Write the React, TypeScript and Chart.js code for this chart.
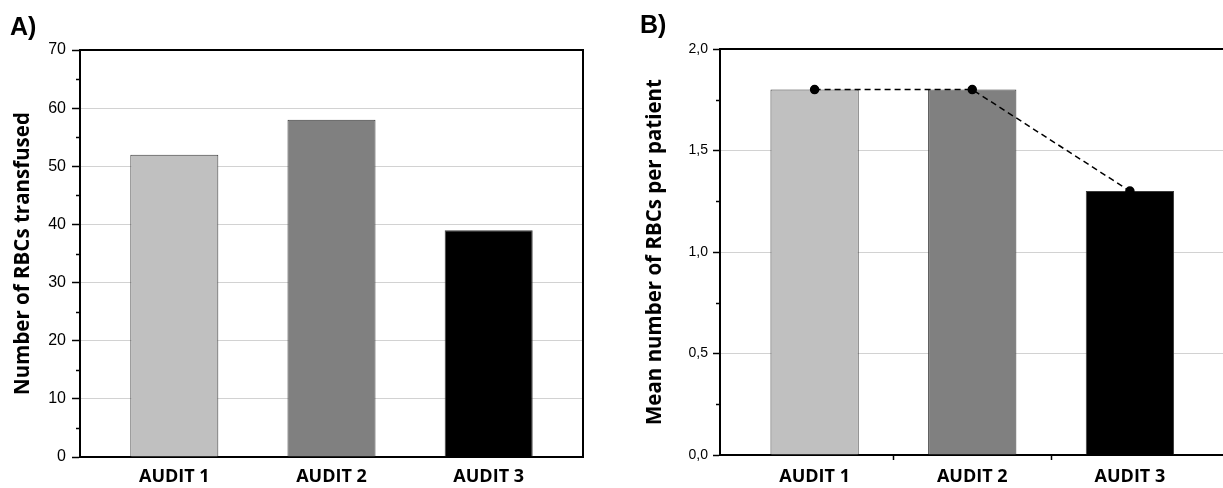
import React, { useEffect, useRef } from "react";
import { Chart, registerables } from "chart.js";

Chart.register(...registerables);

const categories = ["AUDIT 1", "AUDIT 2", "AUDIT 3"];
const categoryPositions = [1, 2, 3];
const rbcsTransfused = [52, 58, 39];
const meanRbcsPerPatient = [1.8, 1.8, 1.3];
const barColors = ["#c0c0c0", "#808080", "#000000"];
const minorTicksA = [5, 15, 25, 35, 45, 55, 65];
const minorTicksB = [0.25, 0.75, 1.25, 1.75];
const xTickMarksB = [1.5, 2.5];

const TICK_FONT = "'Liberation Sans', Arial, sans-serif";
const LABEL_FONT = "'Open Sans', 'Noto Sans', sans-serif";

const framePlugin = {
  id: "frameMinor",
  afterDraw(chart: any, _args: any, opts: any) {
    const { ctx, chartArea } = chart;
    const { left, top, right, bottom } = chartArea;
    ctx.save();
    ctx.strokeStyle = "#000";
    ctx.lineWidth = 2;
    ctx.beginPath();
    ctx.moveTo(left, top);
    ctx.lineTo(right, top);
    ctx.lineTo(right, bottom);
    ctx.stroke();
    const y = chart.scales.y;
    const x = chart.scales.x;
    ctx.lineWidth = 1.5;
    ctx.beginPath();
    (opts.minor || []).forEach((v: number) => {
      const p = Math.round(y.getPixelForValue(v)) + 0.5;
      ctx.moveTo(left - 4, p);
      ctx.lineTo(left, p);
    });
    (opts.xMarks || []).forEach((v: number) => {
      const p = Math.round(x.getPixelForValue(v)) + 0.5;
      ctx.moveTo(p, bottom);
      ctx.lineTo(p, bottom + 5);
    });
    ctx.stroke();
    ctx.restore();
  },
};

function makeData(values: number[]) {
  return categoryPositions.map((x, i) => ({ x, y: values[i] }));
}

function xScale(bottomY: number, pad: number) {
  return {
    type: "linear",
    offset: false,
    min: 0.4,
    max: 3.6,
    afterBuildTicks: (scale: any) => {
      scale.ticks = categoryPositions.map((v) => ({ value: v }));
    },
    afterFit: (scale: any) => {
      scale.height = 488 - bottomY;
    },
    grid: {
      display: true,
      offset: false,
      drawOnChartArea: false,
      drawTicks: false,
    },
    border: { display: true, color: "#000", width: 2 },
    ticks: {
      autoSkip: false,
      maxRotation: 0,
      padding: pad,
      color: "#000",
      font: { family: LABEL_FONT, size: 18, weight: "bold" },
      callback: (v: any) => {
        const idx = categoryPositions.indexOf(Number(v));
        return idx >= 0 ? categories[idx] : "";
      },
    },
  };
}

function PanelChart(props: {
  values: number[];
  withLine: boolean;
  yMax: number;
  yStep: number;
  minor: number[];
  title: string;
  titlePad: number;
  tickSize: number;
  tickLen: number;
  tickPad: number;
  padTop: number;
  padRight: number;
  width: number;
  format: (v: number) => string;
  xMarks: number[];
  bottomY: number;
  xPad: number;
}) {
  const ref = useRef<HTMLCanvasElement>(null);
  useEffect(() => {
    if (!ref.current) return;
    const datasets: any[] = [];
    if (props.withLine) {
      datasets.push({
        type: "line",
        data: makeData(props.values),
        borderColor: "#000",
        borderWidth: 1.5,
        borderDash: [6, 4],
        pointRadius: 4,
        pointBackgroundColor: "#000",
        pointBorderColor: "#000",
        order: 0,
      });
    }
    datasets.push({
      type: "bar",
      data: makeData(props.values),
      backgroundColor: barColors,
      borderColor: "#3a3a3a",
      borderWidth: 1,
      barPercentage: 0.56,
      categoryPercentage: 1,
      order: 1,
    });
    const chart = new Chart(ref.current, {
      type: "bar",
      data: { datasets },
      plugins: [framePlugin],
      options: {
        responsive: false,
        animation: false,
        devicePixelRatio: 1,
        layout: { padding: { left: 0, right: props.padRight, top: props.padTop, bottom: 0 } },
        plugins: {
          legend: { display: false },
          tooltip: { enabled: false },
          frameMinor: { minor: props.minor, xMarks: props.xMarks },
        } as any,
        scales: {
          x: xScale(props.bottomY, props.xPad) as any,
          y: {
            min: 0,
            max: props.yMax,
            afterFit: (scale: any) => {
              scale.width = 80;
            },
            ticks: {
              stepSize: props.yStep,
              padding: props.tickPad,
              color: "#000",
              font: { family: TICK_FONT, size: props.tickSize },
              callback: (v: any) => props.format(Number(v)),
            },
            grid: {
              color: (ctx: any) =>
                ctx.tick && (ctx.tick.value === 0 || ctx.tick.value === props.yMax)
                  ? "rgba(0,0,0,0)"
                  : "#d2d2d2",
              lineWidth: 1,
              tickLength: props.tickLen,
              tickColor: "#000",
              tickWidth: 1.5,
            },
            border: { display: true, color: "#000", width: 2 },
            title: {
              display: true,
              text: props.title,
              color: "#000",
              font: { family: LABEL_FONT, size: 20.5, weight: "bold" },
              padding: { top: props.titlePad, bottom: 0 },
            },
          },
        },
      },
    });
    return () => chart.destroy();
  }, []);
  return <canvas ref={ref} width={props.width} height={488} />;
}

export default function App() {
  const panelLabel: React.CSSProperties = {
    position: "absolute",
    font: "bold 25px 'Liberation Sans', Arial, sans-serif",
    color: "#000",
    lineHeight: "normal",
  };
  return (
    <div
      style={{
        position: "fixed",
        left: 0,
        top: 0,
        width: 1223,
        height: 488,
        overflow: "hidden",
        background: "#fff",
      }}
    >
      <div style={{ position: "absolute", left: 0, top: 0 }}>
        <PanelChart
          values={rbcsTransfused}
          withLine={false}
          yMax={70}
          yStep={10}
          minor={minorTicksA}
          title="Number of RBCs transfused"
          titlePad={11}
          tickSize={16}
          tickLen={8}
          tickPad={6}
          padTop={50}
          padRight={37}
          width={620}
          format={(v) => String(v)}
          xMarks={[]}
          bottomY={457}
          xPad={9}
        />
      </div>
      <div style={{ position: "absolute", left: 640, top: 0 }}>
        <PanelChart
          values={meanRbcsPerPatient}
          withLine={true}
          yMax={2}
          yStep={0.5}
          minor={minorTicksB}
          title="Mean number of RBCs per patient"
          titlePad={3}
          tickSize={14}
          tickLen={7}
          tickPad={5}
          padTop={49}
          padRight={5}
          width={590}
          format={(v) => v.toFixed(1).replace(".", ",")}
          xMarks={xTickMarksB}
          bottomY={455}
          xPad={11}
        />
      </div>
      <div style={{ ...panelLabel, left: 10, top: 12 }}>A)</div>
      <div style={{ ...panelLabel, left: 640, top: 10 }}>B)</div>
    </div>
  );
}
